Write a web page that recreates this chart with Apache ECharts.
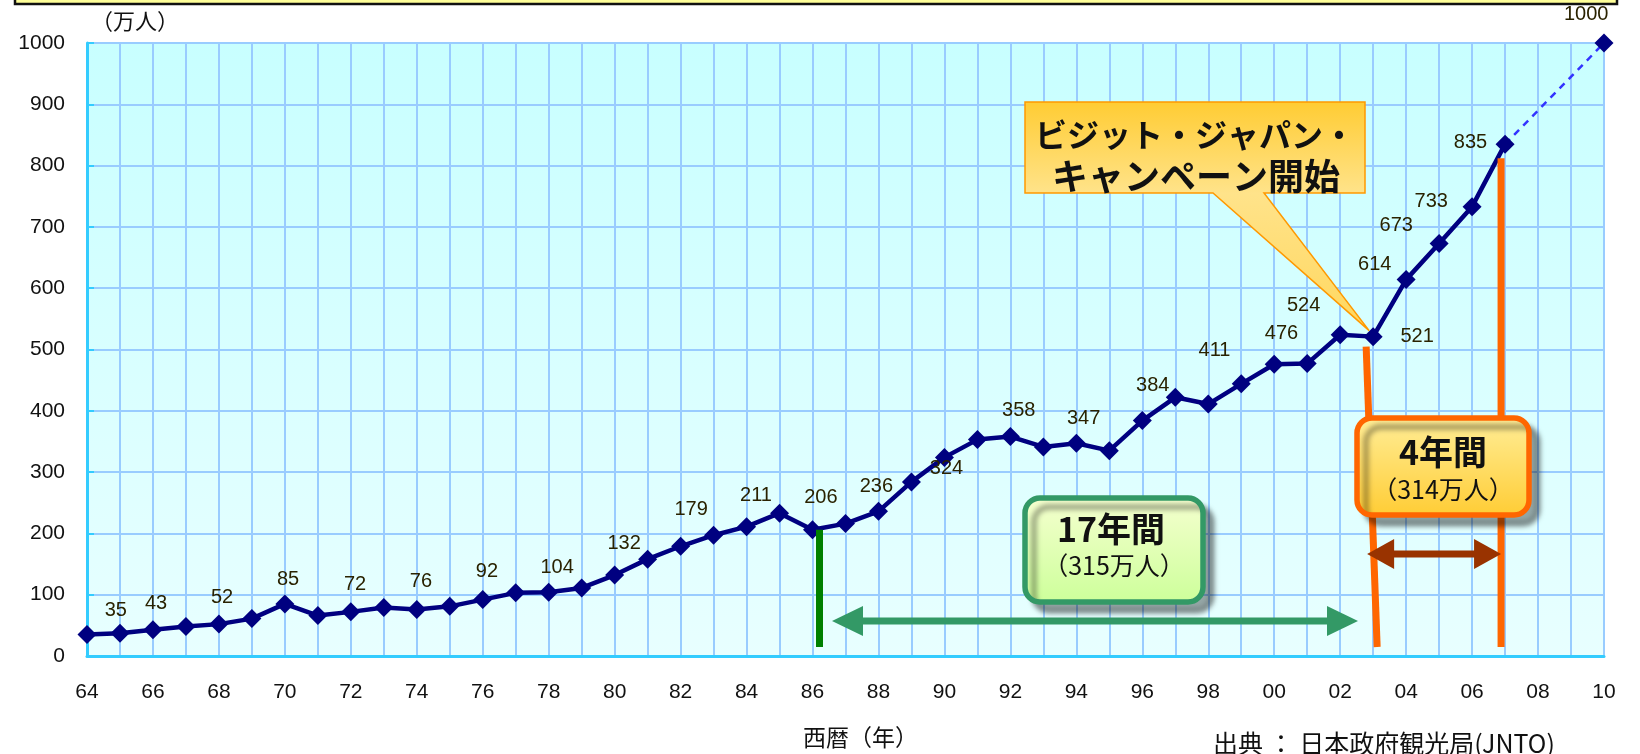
<!DOCTYPE html>
<html><head><meta charset="utf-8">
<script src="https://cdn.jsdelivr.net/npm/echarts@6/dist/echarts.min.js"></script>
<style>html,body{margin:0;padding:0;background:#fff}#c{width:1640px;height:754px}</style>
</head><body><div id="c"></div>
<script>
// ---- data ----
const years = [1964,1965,1966,1967,1968,1969,1970,1971,1972,1973,1974,1975,1976,1977,1978,1979,1980,1981,1982,1983,1984,1985,1986,1987,1988,1989,1990,1991,1992,1993,1994,1995,1996,1997,1998,1999,2000,2001,2002,2003,2004,2005,2006,2007];
const visitors = [35,37,43,48,52,61,85,66,72,79,76,81,92,103,104,111,132,158,179,197,211,233,206,216,236,284,324,353,358,341,347,335,384,422,411,444,476,477,524,521,614,673,733,835];
const targetYears = [2007,2010];
const targetValues = [835,1000];
const labelYears = [1965,1966,1968,1970,1972,1974,1976,1978,1980,1982,1984,1986,1988,1990,1992,1994,1996,1998,2000,2002,2003,2004,2005,2006,2007,2010];
const labelTexts = ['35','43','52','85','72','76','92','104','132','179','211','206','236','324','358','347','384','411','476','524','521','614','673','733','835','1000'];
const yTicks = [0,100,200,300,400,500,600,700,800,900,1000];
const xTickLabels = ['64','66','68','70','72','74','76','78','80','82','84','86','88','90','92','94','96','98','00','02','04','06','08','10'];
// label offsets (style, px)
const K = 1.046;
const labelOffsets = {1965:[-4,-22],1966:[3,-25],1968:[3,-25],1970:[3,-23],1972:[4,-26],1974:[4,-27],1976:[4,-27],1978:[8,-24],1980:[9,-30],1982:[10,-35],1984:[9,-30],1986:[8,-31],1988:[-2,-24],1990:[2,11],1992:[8,-25],1994:[7,-24],1996:[10,-34],1998:[6,-51],2000:[7,-29],2002:[-35,-28],2003:[42,0],2004:[-30,-14],2005:[-41,-17],2006:[-39,-5],2007:[-33,-2],2010:[-17,-27]};

const NUM_FONT = '"Liberation Sans", Arial, sans-serif';
const JP_FONT = '"Noto Sans CJK JP", sans-serif';

function labelFor(yr){
  const i = labelYears.indexOf(yr);
  if(i<0) return null;
  const o = labelOffsets[yr];
  return {show:true, position:'inside', offset:[o[0]*K, o[1]*K], formatter:labelTexts[i],
          color:'#2a2200', fontSize:20, fontFamily:NUM_FONT};
}
const mainData = years.map((y,i)=>{
  const o = {value:[y, visitors[i]]};
  const l = labelFor(y); if(l) o.label = l;
  return o;
});
const targetData = targetYears.map((y,i)=>{
  const o = {value:[y, targetValues[i]]};
  if(y===2010) o.label = labelFor(y); else o.symbol='none';
  return o;
});

const chart = echarts.init(document.getElementById('c'), null, {renderer:'canvas'});
const option = {
  animation:false,
  grid:{left:87,right:36,top:43,bottom:97,show:true,borderWidth:0,
    backgroundColor:{type:'linear',x:0,y:0,x2:0,y2:1,colorStops:[{offset:0,color:'#c8ffff'},{offset:1,color:'#e8ffff'}]}},
  xAxis:{type:'value',min:1964,max:2010,interval:1,
    name:'西暦（年）',nameLocation:'middle',nameGap:70,
    nameTextStyle:{fontFamily:JP_FONT,fontSize:23,color:'#111',padding:[0,0,0,30]},
    axisLine:{show:true,lineStyle:{color:'#33ccff',width:3}},
    axisTick:{show:false},
    axisLabel:{margin:26,fontSize:21,color:'#111',fontFamily:NUM_FONT,
      formatter:v=>{const yr=Math.round(v); if(yr%2) return ''; const s=String(yr%100).padStart(2,'0'); return xTickLabels.includes(s)?s:'';}},
    splitLine:{show:true,lineStyle:{color:'#99ccff',width:2}}},
  yAxis:{type:'value',min:0,max:1000,interval:100,
    name:'（万人）',nameLocation:'end',nameGap:11,
    nameTextStyle:{fontFamily:JP_FONT,fontSize:22,color:'#111',align:'left',padding:[0,0,0,4]},
    axisLine:{show:true,lineStyle:{color:'#33ccff',width:3}},
    axisTick:{show:true,inside:true,length:7,lineStyle:{color:'#33ccff',width:2}},
    axisLabel:{margin:22,fontSize:21,color:'#111',fontFamily:NUM_FONT,formatter:v=>yTicks.includes(v)?String(v):''},
    splitLine:{show:true,lineStyle:{color:'#99ccff',width:2}}},
  series:[
    {type:'line',data:targetData,symbol:'diamond',symbolSize:19,z:3,
      itemStyle:{color:'#000080'},lineStyle:{color:'#3333ff',width:2.5,type:[7,6]}},
    {type:'line',data:mainData,symbol:'diamond',symbolSize:19,z:4,
      itemStyle:{color:'#000080'},lineStyle:{color:'#000080',width:4.5}}
  ]
};
chart.setOption(option);

const P = (x,y)=>chart.convertToPixel({gridIndex:0},[x,y]);
const boxShadow = {shadowBlur:5,shadowOffsetX:9,shadowOffsetY:9,shadowColor:'rgba(0,0,0,0.35)'};
function arrow(x1,x2,y,color,head,half){
  return [
    {type:'line',shape:{x1:x1+head-2,y1:y,x2:x2-head+2,y2:y},style:{stroke:color,lineWidth:7},z:50},
    {type:'polygon',shape:{points:[[x1,y],[x1+head,y-half],[x1+head,y+half]]},style:{fill:color},z:50},
    {type:'polygon',shape:{points:[[x2,y],[x2-head,y-half],[x2-head,y+half]]},style:{fill:color},z:50}
  ];
}
const p86 = P(1986,206);
const p03 = P(2003,521);
const p07 = P(2007,835);
const lineBottom = 647;
const graphics = [];
// top yellow banner
graphics.push({type:'rect',shape:{x:15,y:-20,width:1602,height:24},style:{fill:'#ffff99',stroke:'#111',lineWidth:2.5},z:60});
// green vertical bar
graphics.push({type:'line',shape:{x1:p86[0]+7,y1:p86[1],x2:p86[0]+7,y2:lineBottom},style:{stroke:'#008000',lineWidth:7},z:40});
// orange lines
graphics.push({type:'line',shape:{x1:p03[0]-7,y1:p03[1]+10,x2:p03[0]+4,y2:lineBottom},style:{stroke:'#ff6600',lineWidth:7},z:40});
graphics.push({type:'line',shape:{x1:p07[0]-4,y1:p07[1]+14,x2:p07[0]-4,y2:lineBottom},style:{stroke:'#ff6600',lineWidth:7},z:40});
// arrows
graphics.push(...arrow(832,1358,621,'#339966',31,15));
graphics.push(...arrow(p03[0]-6,p07[0]-4,554,'#993300',27,15));
// green box
graphics.push({type:'rect',shape:{x:1025,y:498,width:178,height:104,r:15},
  style:Object.assign({fill:{type:'linear',x:0,y:0,x2:0,y2:1,colorStops:[{offset:0,color:'#f6ffd0'},{offset:1,color:'#ccff99'}]},stroke:'#339966',lineWidth:5.5},boxShadow),z:55});
graphics.push({type:'text',x:1111,y:529,style:{text:'17年間',font:'bold 34px '+JP_FONT,fill:'#111',align:'center',verticalAlign:'middle'},z:56});
graphics.push({type:'text',x:1114,y:565,style:{text:'（315万人）',font:'25px '+JP_FONT,fill:'#111',align:'center',verticalAlign:'middle'},z:56});
// orange box
graphics.push({type:'rect',shape:{x:1357,y:418,width:172,height:97,r:15},
  style:Object.assign({fill:{type:'linear',x:0,y:0,x2:0,y2:1,colorStops:[{offset:0,color:'#ffee99'},{offset:1,color:'#ffcc33'}]},stroke:'#ff6600',lineWidth:5.5},boxShadow),z:55});
graphics.push({type:'text',x:1443,y:452,style:{text:'4年間',font:'bold 34px '+JP_FONT,fill:'#111',align:'center',verticalAlign:'middle'},z:56});
graphics.push({type:'text',x:1443,y:489,style:{text:'（314万人）',font:'25px '+JP_FONT,fill:'#111',align:'center',verticalAlign:'middle'},z:56});
// callout
graphics.push({type:'polygon',shape:{points:[[1025,102],[1365,102],[1365,193],[1264,193],[p03[0]-4,p03[1]-6],[1213,193],[1025,193]]},
  style:{fill:{type:'linear',x:0,y:0,x2:0,y2:1,colorStops:[{offset:0,color:'#ffcc33'},{offset:0.4,color:'#ffe38a'},{offset:1,color:'#ffd75e'}]},stroke:'#ff9900',lineWidth:1.5},z:55});
graphics.push({type:'text',x:1195,y:135,style:{text:'ビジット・ジャパン・',font:'bold 32px '+JP_FONT,fill:'#111',align:'center',verticalAlign:'middle'},z:56});
graphics.push({type:'text',x:1196,y:176,style:{text:'キャンペーン開始',font:'bold 36px '+JP_FONT,fill:'#111',align:'center',verticalAlign:'middle'},z:56});
// source
graphics.push({type:'text',x:1213,y:743,style:{text:'出典 ： 日本政府観光局(JNTO)',font:'25px '+JP_FONT,fill:'#111',align:'left',verticalAlign:'middle'},z:56});
chart.setOption({graphic:graphics});
</script></body></html>
